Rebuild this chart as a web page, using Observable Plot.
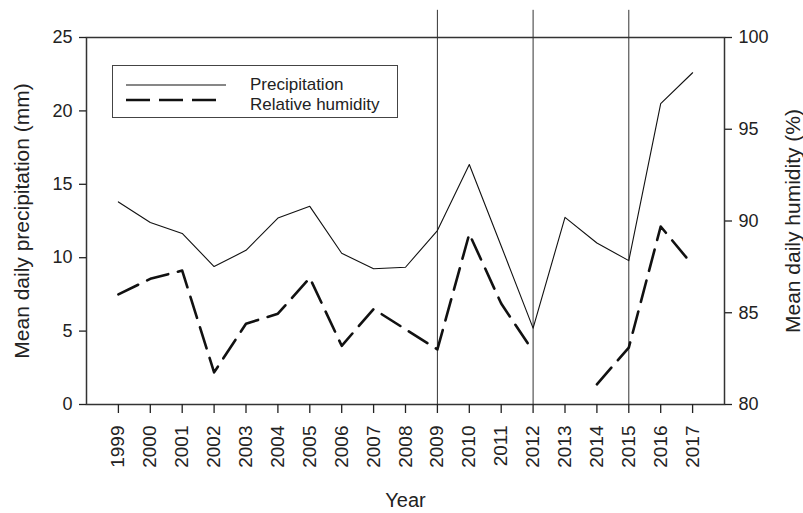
<!DOCTYPE html>
<html><head><meta charset="utf-8">
<script src="https://cdn.jsdelivr.net/npm/d3@7"></script>
<script src="https://cdn.jsdelivr.net/npm/@observablehq/plot@0.6"></script>
<style>
body{margin:0;background:#fff;}
#wrap{position:relative;width:803px;height:513px;font-family:"Liberation Sans",Arial,sans-serif;color:#222;}
#legend{position:absolute;left:112px;top:65px;width:284px;height:51px;border:1.5px solid #444;background:#fff;}
#legend svg{position:absolute;left:0;top:0;}
</style></head><body><div id="wrap"></div>
<script>
// ---- data ----
const years = [1999,2000,2001,2002,2003,2004,2005,2006,2007,2008,2009,2010,2011,2012,2013,2014,2015,2016,2017];
const precipitation = [13.8,12.4,11.65,9.4,10.5,12.7,13.5,10.3,9.25,9.35,11.85,16.35,10.8,5.2,12.75,11.0,9.8,20.5,22.6];
const humidity = [86.0,86.85,87.3,81.75,84.4,84.95,86.9,83.2,85.2,84.1,83.0,89.3,85.5,82.9,null,81.1,83.1,89.7,87.6];
const precipTicks = [0,5,10,15,20,25];
const humidityTicks = [80,85,90,95,100];
const markerYears = [2009,2012,2015];
const seriesNames = ["Precipitation","Relative humidity"];

const humLo = humidityTicks[0], humHi = humidityTicks[humidityTicks.length-1];
const pMax = precipTicks[precipTicks.length-1];
const hToY = h => (h - humLo) * pMax / (humHi - humLo);
const yToH = v => Math.round(humLo + v * (humHi - humLo) / pMax);

const rows = years.map((y,i)=>({year:y, precip:precipitation[i], hum: humidity[i]==null ? NaN : hToY(humidity[i])}));
const refTop = 26.85; // marker lines extend slightly above the frame

const chart = Plot.plot({
  width: 803, height: 513,
  marginLeft: 86, marginRight: 79, marginTop: 37, marginBottom: 109,
  x: {domain:[1998,2018]},
  y: {domain:[0,pMax]},
  style: {fontFamily:"'Liberation Sans', Arial, sans-serif", color:"#222", background:"white", overflow:"visible"},
  marks: [
    Plot.ruleX(markerYears, {x:d=>d, y1:0, y2:refTop, stroke:"#333", strokeWidth:1}),
    Plot.frame({stroke:"#333", strokeWidth:1.5}),
    Plot.line(rows, {x:"year", y:"precip", stroke:"#111", strokeWidth:1.1}),
    Plot.line(rows, {x:"year", y:"hum", stroke:"#111", strokeWidth:2.6, strokeDasharray:"22,10"}),
    Plot.axisY(precipTicks, {anchor:"left", tickSize:7, tickPadding:7, fontSize:18, strokeWidth:1.3, label:null}),
    Plot.axisY(humidityTicks.map(hToY), {anchor:"right", tickSize:7, tickPadding:7, fontSize:18, strokeWidth:1.3, tickFormat:yToH, label:null}),
    Plot.axisX(years, {anchor:"bottom", tickSize:9, tickPadding:12, tickRotate:-90, fontSize:19, strokeWidth:1.3, tickFormat:d=>String(d), label:null}),
    Plot.text(["Mean daily precipitation (mm)"], {frameAnchor:"left", dx:-64, rotate:-90, textAnchor:"middle", lineAnchor:"middle", fontSize:21, fill:"#222"}),
    Plot.text(["Mean daily humidity (%)"], {frameAnchor:"right", dx:69, rotate:-90, textAnchor:"middle", lineAnchor:"middle", fontSize:21, fill:"#222"}),
    Plot.text(["Year"], {frameAnchor:"bottom", dy:96, textAnchor:"middle", lineAnchor:"middle", fontSize:20, fill:"#222"})
  ]
});
const wrap = document.getElementById("wrap");
wrap.appendChild(chart);

const leg = document.createElement("div");
leg.id = "legend";
leg.innerHTML = `<svg width="284" height="51">
  <line x1="13" x2="113" y1="19" y2="19" stroke="#111" stroke-width="1.1"/>
  <line x1="13" x2="103" y1="34" y2="34" stroke="#111" stroke-width="2.6" stroke-dasharray="24,9"/>
  <text x="137" y="24" font-size="17" fill="#222">${seriesNames[0]}</text>
  <text x="137" y="44" font-size="17" fill="#222">${seriesNames[1]}</text>
</svg>`;
wrap.appendChild(leg);
</script></body></html>
